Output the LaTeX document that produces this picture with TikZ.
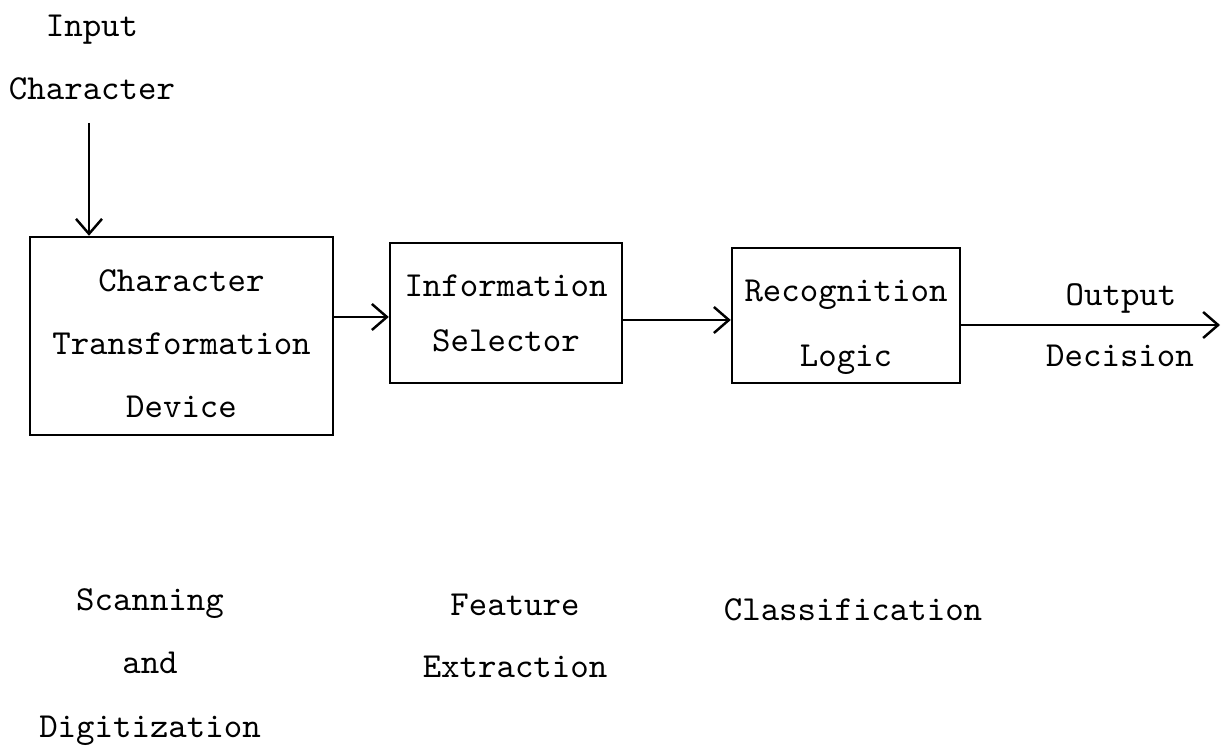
\documentclass[tikz,border=0pt]{standalone}
\usetikzlibrary{arrows.meta}
\newcommand{\toppad}[1]{\rule{0pt}{#1}}
\begin{document}
\begin{tikzpicture}[
	font=\fontsize{10}{18}\selectfont\ttfamily,
	line width=0.7pt,
	>={Straight Barb[length=1.5mm,width=2.6mm]},
	box/.style={rectangle, draw, inner sep=0pt, align=center},
	txt/.style={align=center}
]
	\useasboundingbox (0,0) rectangle (12.25,7.51);

	% the three stages
	\node[box, minimum width=3.03cm, minimum height=1.98cm] (ctd) at (1.815, 4.15) {\toppad{10.6pt}Character\\Transformation\\Device};
	\node[box, minimum width=2.32cm, minimum height=1.40cm, font=\fontsize{10}{15.6}\selectfont\ttfamily] (sel) at (5.06, 4.38) {Information\\Selector};
	\node[box, minimum width=2.28cm, minimum height=1.35cm, font=\fontsize{10}{18.5}\selectfont\ttfamily] (rec) at (8.46, 4.355) {\toppad{13pt}Recognition\\Logic};

	% input and output
	\node[txt] (inp) at (0.92, 6.935) {Input\\Character};
	\coordinate (in) at (0.89, 6.28);
	\coordinate (out) at (12.20, 4.26);
	\node (outlbl) at (11.21, 4.53) {Output};
	\node (declbl) at (11.20, 3.95) {Decision};

	% phase names
	\node[txt] (scan) at (1.50, 0.84) {Scanning\\and\\Digitization};
	\node[txt, font=\fontsize{10}{17.6}\selectfont\ttfamily] (feat) at (5.15, 1.15) {Feature\\Extraction};
	\node (cls) at (8.53, 1.41) {Classification};

	\draw[->] (in) -- (in |- ctd.north);
	\draw[->] ([yshift=-0.4mm]sel.west -| ctd.east) -- ([yshift=-0.4mm]sel.west);
	\draw[->] ([yshift=-0.7mm]sel.east) -- ([yshift=-0.7mm]sel.east -| rec.west);
	\draw[->] (rec.east |- out) -- (out);
\end{tikzpicture}
\end{document}
